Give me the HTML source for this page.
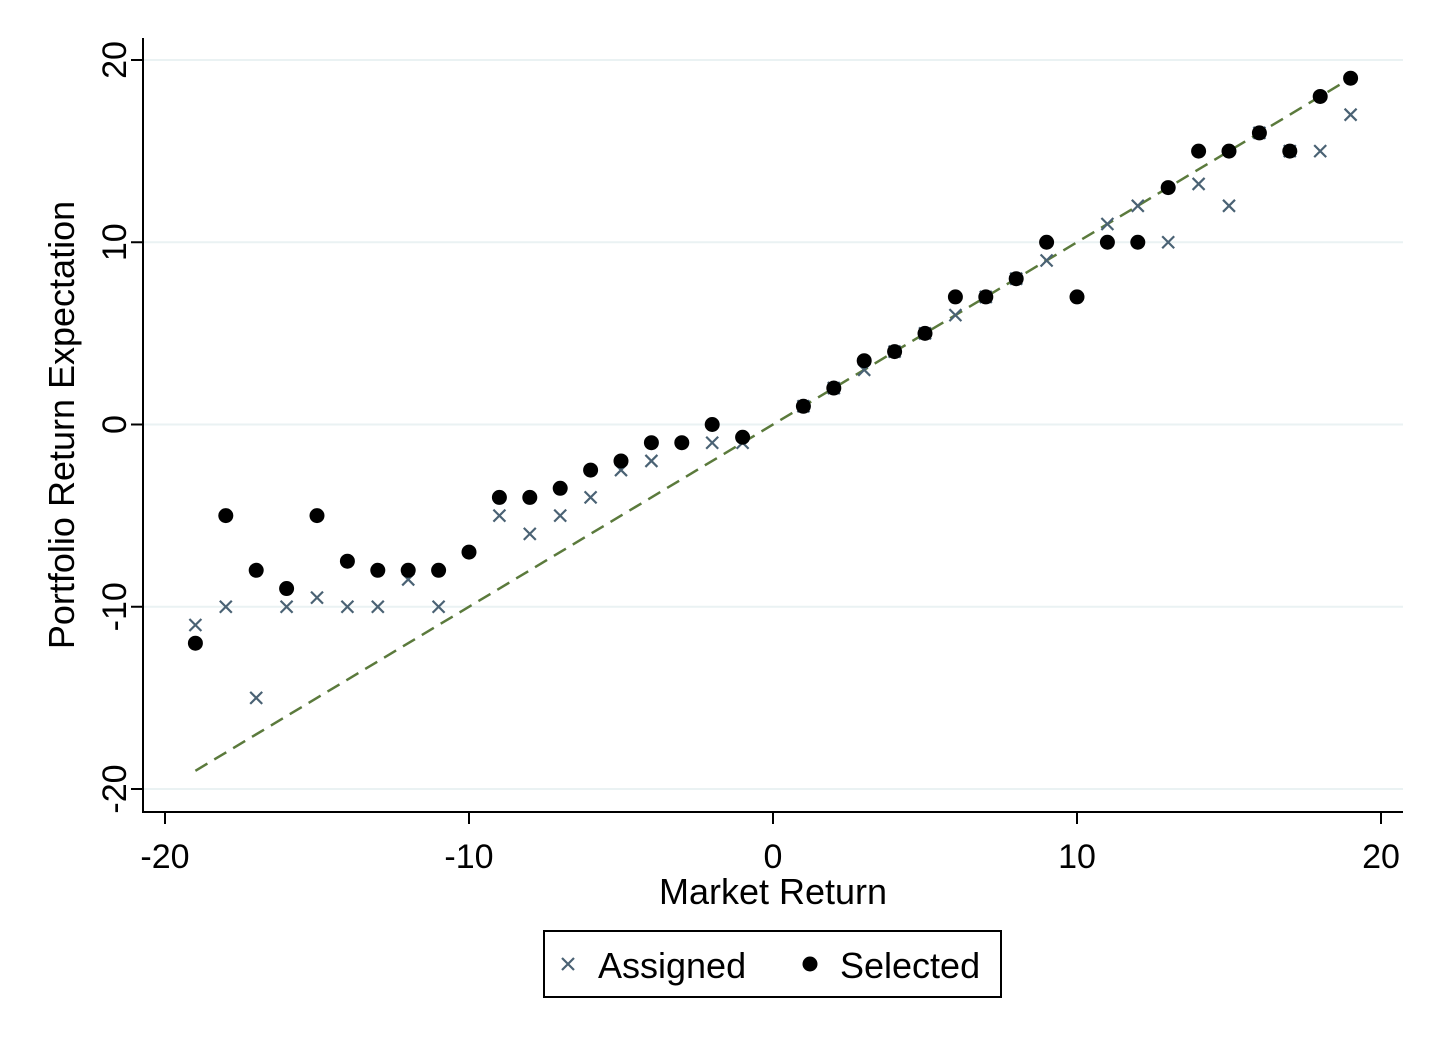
<!DOCTYPE html>
<html><head><meta charset="utf-8"><style>body{margin:0;background:#fff}svg{display:block;font-family:"Liberation Sans",Arial,sans-serif}</style></head>
<body>
<svg id="chart" width="1441" height="1048" viewBox="0 0 1441 1048"></svg>
<script>
const xTicks=[-20,-10,0,10,20];
const yTicks=[-20,-10,0,10,20];
const assignedX=[-19,-18,-17,-16,-15,-14,-13,-12,-11,-9,-8,-7,-6,-5,-4,-2,-1,1,2,3,4,5,6,7,8,9,11,12,13,14,15,16,17,18,19];
const assignedY=[-11,-10,-15,-10,-9.5,-10,-10,-8.5,-10,-5,-6,-5,-4,-2.5,-2,-1,-1,1,2,3,4,5,6,7,8,9,11,12,10,13.2,12,16,15,15,17];
const selectedX=[-19,-18,-17,-16,-15,-14,-13,-12,-11,-10,-9,-8,-7,-6,-5,-4,-3,-2,-1,1,2,3,4,5,6,7,8,9,10,11,12,13,14,15,16,17,18,19];
const selectedY=[-12,-5,-8,-9,-5,-7.5,-8,-8,-8,-7,-4,-4,-3.5,-2.5,-2,-1,-1,0,-0.7,1,2,3.5,4,5,7,7,8,10,7,10,10,13,15,15,16,15,18,19];
const fitLine=[-19,19];
const sx=v=>773+v*30.4;
const sy=v=>424.5-v*18.225;
const svg=document.getElementById('chart');
const NS='http://www.w3.org/2000/svg';
function mk(t,a,p){const e=document.createElementNS(NS,t);for(const k in a)e.setAttribute(k,a[k]);(p||svg).appendChild(e);return e;}
yTicks.forEach(v=>{
 const g=mk('line',{x1:143,x2:1403,y1:sy(v),y2:sy(v),stroke:'#eaf2f3','stroke-width':2});
 
 
 const t=mk('line',{x1:131,x2:143,y1:sy(v),y2:sy(v),stroke:'#000','stroke-width':2});
 
 
 const l=mk('text',{x:0,y:0,'font-size':34,'text-anchor':'middle',transform:`translate(126,${sy(v)}) rotate(-90)`});
 l.textContent=v;
 
 
});
xTicks.forEach(v=>{
 const t=mk('line',{x1:sx(v),x2:sx(v),y1:812,y2:824,stroke:'#000','stroke-width':2});
 
 
 const l=mk('text',{x:sx(v),y:868,'font-size':34,'text-anchor':'middle'});
 l.textContent=v;
 
 
});
const ax=mk('path',{d:'M143 38 V812 H1403',fill:'none',stroke:'#000','stroke-width':2});


const fl=mk('line',{x1:sx(fitLine[0]),y1:sy(fitLine[0]),x2:sx(fitLine[1]),y2:sy(fitLine[1]),stroke:'#5b7a3c','stroke-width':2.5,'stroke-dasharray':'14 8'});


assignedX.forEach((x,i)=>{
 const cx=sx(x),cy=sy(assignedY[i]);
 const p=mk('path',{d:`M${cx-6} ${cy-6}L${cx+6} ${cy+6}M${cx-6} ${cy+6}L${cx+6} ${cy-6}`,stroke:'#4a6274','stroke-width':2.2});
 
 
});
selectedX.forEach((x,i)=>{
 const c=mk('circle',{cx:sx(x),cy:sy(selectedY[i]),r:7.5,fill:'#000'});
 
 
});
const xt=mk('text',{x:773,y:904,'font-size':36,'text-anchor':'middle'});
xt.textContent='Market Return';


const yt=mk('text',{x:0,y:0,'font-size':36,'text-anchor':'middle',transform:'translate(74,425) rotate(-90)'});
yt.textContent='Portfolio Return Expectation';


const lg=mk('g',{});


mk('rect',{x:544,y:931,width:457,height:66,fill:'#fff',stroke:'#000','stroke-width':2},lg);
mk('path',{d:'M562 958L574 970M562 970L574 958',stroke:'#4a6274','stroke-width':2.2},lg);
const t1=mk('text',{x:598,y:978,'font-size':36},lg);t1.textContent='Assigned';


mk('circle',{cx:810,cy:964,r:7.5,fill:'#000'},lg);
const t2=mk('text',{x:840,y:978,'font-size':36},lg);t2.textContent='Selected';


</script>
</body></html>
